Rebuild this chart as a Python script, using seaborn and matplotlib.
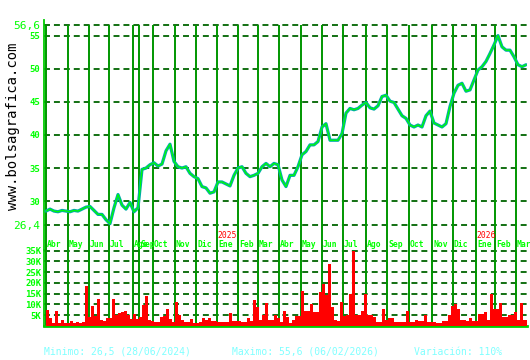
import numpy as np
import matplotlib
matplotlib.use("Agg")
import matplotlib.pyplot as plt
import matplotlib.transforms as mtransforms
import seaborn as sns

# ---------------- data ----------------
# closing price sampled every 4 trading days (first value = start of Apr 2024)
price_close = [
    28.5, 28.8, 28.5, 28.4, 28.6, 28.5, 28.4, 28.6, 28.5, 28.8,
    29.1, 29.2, 28.6, 28.0, 28.0, 27.2, 26.6, 29.0, 31.0, 29.4,
    28.8, 29.8, 28.4, 29.0, 34.8, 35.0, 35.5, 35.8, 35.3, 35.6,
    37.6, 38.6, 36.0, 35.2, 35.0, 35.2, 34.2, 33.7, 33.4, 32.2,
    32.0, 31.2, 31.4, 32.9, 32.9, 32.6, 32.3, 33.9, 35.0, 35.2,
    34.2, 33.7, 33.9, 34.2, 35.2, 35.7, 35.2, 35.7, 35.5, 33.2,
    32.2, 33.9, 33.9, 35.2, 37.0, 37.5, 38.5, 38.5, 39.0, 41.2,
    41.7, 39.2, 39.2, 39.2, 40.2, 43.3, 44.0, 43.8, 44.0, 44.5,
    44.9, 44.1, 43.9, 44.4, 45.8, 46.0, 45.1, 44.9, 43.9, 42.9,
    42.5, 41.5, 41.2, 41.5, 41.2, 42.9, 43.6, 41.8, 41.5, 41.2,
    41.7, 44.3, 46.3, 47.5, 47.8, 46.6, 46.8, 48.3, 49.8, 50.3,
    51.1, 52.3, 53.6, 55.0, 53.3, 52.8, 52.8, 51.8, 50.6, 50.3,
    50.6,
]
price_step = 4

# volume (thousands) sampled every 3 trading days
volume_k = [
    7.5, 3.8, 1.5, 6.8, 1.5, 2.9, 1.5, 1.5, 2.5, 1.2,
    2.0, 1.5, 1.8, 18.5, 4.0, 9.5, 4.5, 12.5, 3.0, 2.5,
    3.5, 3.5, 12.5, 5.0, 6.0, 6.5, 7.0, 5.0, 3.3, 5.4,
    3.3, 4.1, 9.7, 14.0, 3.0, 2.5, 2.0, 1.7, 4.1, 4.5,
    8.0, 3.3, 2.0, 11.0, 5.0, 3.0, 1.8, 1.8, 3.3, 1.3,
    1.3, 2.0, 3.5, 3.0, 3.5, 2.5, 2.5, 2.0, 2.0, 2.0,
    2.0, 6.0, 2.5, 2.5, 2.5, 2.0, 2.0, 3.5, 2.5, 12.0,
    8.9, 3.0, 5.0, 10.5, 3.0, 3.0, 5.0, 3.5, 1.7, 6.8,
    4.0, 1.5, 3.0, 4.5, 4.5, 16.5, 7.0, 7.0, 10.0, 6.5,
    6.5, 16.0, 19.5, 14.4, 29.0, 9.0, 3.0, 2.5, 11.0, 4.5,
    5.0, 15.0, 35.0, 5.0, 5.0, 7.0, 15.0, 5.0, 5.0, 4.0,
    2.0, 2.0, 8.0, 3.0, 3.5, 3.5, 2.0, 2.0, 2.0, 2.0,
    7.0, 1.8, 1.8, 2.8, 2.2, 2.2, 5.0, 2.0, 2.0, 2.0,
    1.2, 1.2, 2.5, 2.5, 5.0, 9.5, 10.0, 8.0, 3.0, 3.0,
    2.5, 3.5, 2.5, 2.5, 5.5, 5.5, 6.5, 3.0, 15.0, 8.0,
    8.0, 10.5, 4.0, 4.0, 5.0, 5.0, 6.5, 3.0, 10.5, 3.0,
    3.0,
]
vol_step = 3

month_labels = ["Abr", "May", "Jun", "Jul", "Ago", "Sep", "Oct", "Nov", "Dic",
                "Ene", "Feb", "Mar", "Abr", "May", "Jun", "Jul", "Ago", "Sep",
                "Oct", "Nov", "Dic", "Ene", "Feb", "Mar"]
month_starts = [0, 22, 43, 63, 87, 93, 107, 129, 150, 171, 192, 212, 233, 255,
                276, 297, 320, 341, 363, 386, 407, 430, 449, 470]
year_labels = ["2025", "2026"]
year_starts = [171, 430]

price_ticks = [56.6, 55, 50, 45, 40, 35, 30, 26.4]
price_tick_labels = ["56,6", "55", "50", "45", "40", "35", "30", "26,4"]
vol_ticks = [5000, 10000, 15000, 20000, 25000, 30000, 35000]
vol_tick_labels = ["5K", "10K", "15K", "20K", "25K", "30K", "35K"]

footer = ["Minimo: 26,5 (28/06/2024)", "Maximo: 55,6 (06/02/2026)", "Variación: 110%"]

# ---------------- style ----------------
sns.set_style("white")
plt.rcParams['font.family'] = ['DejaVu Sans Mono', 'DejaVu Sans']

W, H = 530, 360
fig = plt.figure(figsize=(W / 100, H / 100), dpi=100)
fig.patch.set_facecolor("white")


def rect(l, t, r, b):
    return [l / W, 1 - b / H, (r - l) / W, (b - t) / H]


axp = fig.add_axes(rect(44, 20, 527, 250))
axv = fig.add_axes(rect(44, 250, 527, 326))

XMIN, XMAX = -2, 481
VLINE = "#009600"
DASH = "#006400"
LBL = "#00ff00"
SPINE = "#00cc00"
dash_style = (0, (3.3, 2.2))

# price panel
px = np.arange(len(price_close)) * price_step
axp.set_xlim(XMIN, XMAX)
axp.set_ylim(22.625, 57.355)
axp.hlines(price_ticks, XMIN, XMAX, colors=DASH, linestyles=dash_style, lw=1.3, zorder=1)
axp.vlines(month_starts, 22.625, 56.6, colors=VLINE, lw=1.4, zorder=2)
sns.lineplot(x=px, y=price_close, ax=axp, color="#00aaaa", lw=2.3, zorder=3)
sns.lineplot(x=px, y=price_close, ax=axp, color="#00ff00", lw=0.9, zorder=4)

axp.set_xticks([])
axp.set_yticks(price_ticks)
axp.set_yticklabels(price_tick_labels)
axp.tick_params(axis="y", length=0, pad=3, labelcolor=LBL)
for t in axp.get_yticklabels():
    if "," in t.get_text():
        t.set_fontsize(8)
    else:
        t.set_fontsize(6.5)
        t.set_fontweight("bold")
for s in ["top", "right", "bottom"]:
    axp.spines[s].set_visible(False)
axp.spines["left"].set_color(SPINE)
axp.spines["left"].set_linewidth(1.3)
axp.patch.set_alpha(0)

# month and year labels
trans = mtransforms.blended_transform_factory(axp.transData, fig.transFigure)
for m, d in zip(month_labels, month_starts):
    axp.text(d + 1, 1 - 244.5 / H, m, transform=trans, color=LBL, fontsize=5.8,
             fontweight="bold", ha="left", va="center")
for yl, d in zip(year_labels, year_starts):
    axp.text(d, 1 - 236 / H, yl, transform=trans, color="#ff0000", fontsize=5.8,
             ha="left", va="center")

# volume panel
vx = np.arange(len(volume_k)) * vol_step
axv.set_xlim(XMIN, XMAX)
axv.set_ylim(0, 35330)
axv.hlines(vol_ticks, XMIN, XMAX, colors=DASH, linestyles=dash_style, lw=1.3, zorder=1)
axv.vlines(month_starts, 0, 35330, colors=VLINE, lw=1.4, zorder=2)
axv.bar(vx, np.array(volume_k) * 1000, width=vol_step, align="edge",
        color="#ff0000", linewidth=0, zorder=3)
axv.set_xticks([])
axv.set_yticks(vol_ticks)
axv.set_yticklabels(vol_tick_labels)
axv.tick_params(axis="y", length=0, pad=2, labelcolor=LBL, labelsize=6.5)
for t in axv.get_yticklabels():
    t.set_fontweight("bold")
for s in ["top", "right"]:
    axv.spines[s].set_visible(False)
axv.spines["left"].set_color(SPINE)
axv.spines["left"].set_linewidth(1.3)
axv.spines["bottom"].set_color(SPINE)
axv.spines["bottom"].set_linewidth(2)
axv.patch.set_alpha(0)

# texts
fig.text(13 / W, 1 - 126 / H, "www.bolsagrafica.com", rotation=90, fontsize=10,
         color="black", ha="center", va="center")
for txt, x0 in zip(footer, [44, 231.5, 414]):
    fig.text(x0 / W, 1 - 352 / H, txt, color="#80ffff", fontsize=7,
             ha="left", va="center")

fig.savefig("out.png", dpi=100, facecolor="white")
